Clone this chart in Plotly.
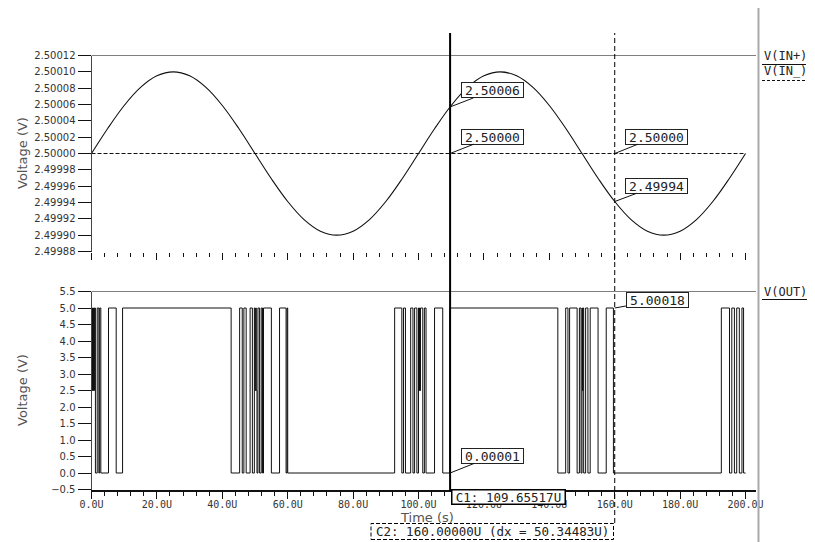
import plotly.graph_objects as go

# ---------------- data ----------------
# time samples (in microseconds, "U") for the input waveforms
t_in = [0, 5, 10, 15, 20, 25, 30, 35, 40, 45, 50, 55, 60, 65, 70, 75, 80, 85, 90, 95,
        100, 105, 110, 115, 120, 125, 130, 135, 140, 145, 150, 155, 160, 165, 170, 175,
        180, 185, 190, 195, 200]
v_in_plus = [2.5000000, 2.5000309, 2.5000588, 2.5000809, 2.5000951, 2.5001000, 2.5000951,
             2.5000809, 2.5000588, 2.5000309, 2.5000000, 2.4999691, 2.4999412, 2.4999191,
             2.4999049, 2.4999000, 2.4999049, 2.4999191, 2.4999412, 2.4999691, 2.5000000,
             2.5000309, 2.5000588, 2.5000809, 2.5000951, 2.5001000, 2.5000951, 2.5000809,
             2.5000588, 2.5000309, 2.5000000, 2.4999691, 2.4999412, 2.4999191, 2.4999049,
             2.4999000, 2.4999049, 2.4999191, 2.4999412, 2.4999691, 2.5000000]
t_in_minus = [0, 200]
v_in_minus = [2.5, 2.5]

# comparator output: switching instants (U) and the level after each switch (V)
t_out = [0.0, 0.15, 0.3, 0.45, 0.6, 0.75, 0.9, 1.2, 1.75, 2.25, 2.5, 2.85, 5.2, 7.55, 9.5,
         42.7, 45.3, 46.1, 46.6, 47.3, 48.5, 49.2, 49.8, 50.0, 50.2, 50.4, 50.6, 50.9, 51.4,
         51.9, 52.3, 52.6, 55.0, 57.5, 59.5, 59.8, 60.0,
         92.7, 94.9, 95.4, 96.0, 97.6, 98.3, 98.8, 99.5, 100.0, 100.15, 100.3, 100.45, 100.6,
         101.3, 101.8, 102.3, 104.9, 107.4, 109.6,
         142.6, 145.0, 145.7, 146.2, 148.5, 149.2, 149.7, 150.0, 150.15, 150.3, 150.5, 151.1,
         151.8, 152.5, 154.9, 157.4, 159.6,
         192.6, 195.1, 195.8, 196.6, 197.3, 198.1, 198.9, 199.4, 200.0]
v_out = [5, 2.5, 5, 2.5, 5, 2.5, 5, 0, 5, 0, 5, 0, 5, 0, 5,
         0, 5, 0, 5, 0, 5, 0, 5, 2.5, 5, 2.5, 0, 5, 0, 5, 0, 5, 0, 5, 0, 5, 0,
         5, 0, 5, 0, 5, 0, 5, 0, 5, 2.5, 5, 2.5, 5, 0, 5, 0, 5, 0, 5,
         0, 5, 0, 5, 0, 5, 0, 5, 2.5, 5, 0, 5, 0, 5, 0, 5, 0,
         5, 0, 5, 0, 5, 0, 5, 0, 0]

# cursors
c1_time = 109.65517
c2_time = 160.0
c1_vals = {"top": [2.500057, 2.5], "bot": [0.00001]}
c2_vals = {"top": [2.5, 2.4999412], "bot": [5.00018]}
c1_labels = {"top": ["2.50006", "2.50000"], "bot": ["0.00001"]}
c2_labels = {"top": ["2.50000", "2.49994"], "bot": ["5.00018"]}
c1_text = "C1: 109.65517U"
c2_text = "C2: 160.00000U (dx = 50.34483U)"
legend_top = ["V(IN+)", "V(IN_)"]
legend_bot = ["V(OUT)"]

# ---------------- layout helpers ----------------
W, H = 815, 542
OFF = 8  # page body margin of the html page
def px(x):
    return (x - OFF) / W
def py(y):
    return 1 - (y - OFF) / H

XD = [px(91.5), px(756)]
TOP_D = [py(251.5), py(55.5)]
BOT_D = [py(489.5), py(291.5)]
XR = [0, 203.2]

INK = "#111111"
TXT = "#333333"
MONO = "DejaVu Sans Mono"
SANS = "DejaVu Sans"

fig = go.Figure()
fig.add_trace(go.Scatter(x=t_in, y=v_in_plus, mode="lines", xaxis="x2", yaxis="y2",
                         line=dict(color=INK, width=1.1, shape="spline", smoothing=1.0)))
fig.add_trace(go.Scatter(x=t_in_minus, y=v_in_minus, mode="lines", xaxis="x2", yaxis="y2",
                         line=dict(color=INK, width=1, dash="4px,2px")))
fig.add_trace(go.Scatter(x=t_out, y=v_out, mode="lines", xaxis="x", yaxis="y",
                         line=dict(color=INK, width=1, shape="hv")))

xcommon = dict(range=XR, domain=XD, tickmode="linear", tick0=0, dtick=20,
               ticks="outside", ticklen=7, tickwidth=1, tickcolor=INK,
               minor=dict(tick0=0, dtick=4, ticks="outside", ticklen=4, tickwidth=1, tickcolor=INK),
               showgrid=False, zeroline=False, fixedrange=True, automargin=False)

fig.update_layout(
    width=W, height=H, margin=dict(l=0, r=0, t=0, b=0, pad=0, autoexpand=False),
    paper_bgcolor="white", plot_bgcolor="white", showlegend=False,
    xaxis=dict(**xcommon, anchor="y", tickformat=".1f", ticksuffix="U",
               showline=True, linewidth=2, linecolor=INK, ticklabelstandoff=-3,
               tickfont=dict(family=MONO, size=10, color=TXT)),
    xaxis2=dict(**xcommon, anchor="y2", matches="x", showticklabels=False, showline=False),
    yaxis=dict(domain=BOT_D, range=[-0.5, 5.5], tickmode="linear", tick0=-0.5, dtick=0.5,
               tickformat=".1f", ticks="outside", ticklen=13, tickwidth=1, tickcolor=INK,
               showline=True, linewidth=1, linecolor="#444444", showgrid=False,
               zeroline=False, anchor="x", automargin=False,
               tickfont=dict(family=SANS, size=10, color=TXT)),
    yaxis2=dict(domain=TOP_D, range=[2.49988, 2.50012], tickmode="linear", tick0=2.49988,
                dtick=0.00002, tickformat=".5f", ticks="outside", ticklen=13, tickwidth=1,
                tickcolor=INK, showline=True, linewidth=1, linecolor="#444444",
                showgrid=False, zeroline=False, anchor="x2", automargin=False,
                tickfont=dict(family=SANS, size=10, color=TXT)),
)

shapes = []
# top frame lines of each panel
shapes.append(dict(type="line", xref="paper", yref="y2", x0=XD[0], x1=XD[1],
                   y0=2.50012, y1=2.50012, line=dict(color="black", width=1)))
shapes.append(dict(type="line", xref="paper", yref="y", x0=XD[0], x1=XD[1],
                   y0=5.5, y1=5.5, line=dict(color="black", width=1)))
# grey separator on the right
shapes.append(dict(type="line", xref="paper", yref="paper", x0=px(758.5), x1=px(758.5),
                   y0=py(542), y1=py(0), line=dict(color="#aaaaaa", width=2)))
# cursors
shapes.append(dict(type="line", xref="x", yref="paper", x0=c1_time, x1=c1_time,
                   y0=py(491), y1=py(33), line=dict(color="black", width=2)))
shapes.append(dict(type="line", xref="x", yref="paper", x0=c2_time, x1=c2_time,
                   y0=py(523), y1=py(33), line=dict(color="black", width=1, dash="5px,3px")))
# C2 dashed label box
shapes.append(dict(type="rect", xref="paper", yref="paper", x0=px(371), x1=px(613.5),
                   y0=py(539.5), y1=py(523.5), line=dict(color="black", width=1, dash="4px,2px"),
                   fillcolor="rgba(255,255,255,0)"))
# legend underlines
shapes.append(dict(type="line", xref="paper", yref="paper", x0=px(762), x1=px(806),
                   y0=py(64.5), y1=py(64.5), line=dict(color=INK, width=1)))
shapes.append(dict(type="line", xref="paper", yref="paper", x0=px(762), x1=px(806),
                   y0=py(80.5), y1=py(80.5), line=dict(color=INK, width=1, dash="3px,2px")))
shapes.append(dict(type="line", xref="paper", yref="paper", x0=px(762), x1=px(815),
                   y0=py(299.5), y1=py(299.5), line=dict(color=INK, width=1)))
fig.update_layout(shapes=shapes)

ann = []
# axis titles
for yc in (153, 390):
    ann.append(dict(text="Voltage (V)", xref="paper", yref="paper", x=px(22), y=py(yc),
                    xanchor="center", yanchor="middle",
                    showarrow=False, textangle=-90, font=dict(family=SANS, size=13, color="#555555")))
ann.append(dict(text="Time (s)", xref="paper", yref="paper", x=px(427), y=py(517),
                xanchor="center", yanchor="middle",
                showarrow=False, font=dict(family=SANS, size=13, color="#555555")))

# cursor value labels
def value_label(xv, yv, text, xr, yr, ax, ay):
    return dict(text=text, x=xv, y=yv, xref=xr, yref=yr, showarrow=True, arrowhead=0,
                arrowwidth=1, arrowcolor=INK, ax=ax, ay=ay, standoff=0,
                bgcolor="white", bordercolor="#222222", borderwidth=1, borderpad=0,
                width=61, height=14, font=dict(family=MONO, size=13, color="#222222"))

top_offsets = [(42.7, -16.5), (42.7, -16.8)]
for (v, lab, off) in zip(c1_vals["top"], c1_labels["top"], top_offsets):
    ann.append(value_label(c1_time, v, lab, "x2", "y2", off[0], off[1]))
for (v, lab, off) in zip(c2_vals["top"], c2_labels["top"], [(42, -16.8), (42, -15.7)]):
    ann.append(value_label(c2_time, v, lab, "x2", "y2", off[0], off[1]))
ann.append(value_label(c1_time, c1_vals["bot"][0], c1_labels["bot"][0], "x", "y", 42.7, -17))
ann.append(value_label(c2_time, c2_vals["bot"][0], c2_labels["bot"][0], "x", "y", 42.3, -7.5))

# cursor readouts
ann.append(dict(text=c1_text, xref="paper", yref="paper", x=px(508), y=py(497),
                xanchor="center", yanchor="middle",
                showarrow=False, bgcolor="white", bordercolor="black", borderwidth=1.5,
                borderpad=0, width=112, height=13, font=dict(family=MONO, size=12.5, color="#222222")))
ann.append(dict(text=c2_text, xref="paper", yref="paper", x=px(492.5), y=py(531.5),
                xanchor="center", yanchor="middle",
                showarrow=False, font=dict(family=MONO, size=12.5, color="#222222")))

# legend labels
for lab, yc in zip(legend_top, (56.5, 70.5)):
    ann.append(dict(text=lab, xref="paper", yref="paper", x=px(762), y=py(yc), xanchor="left",
                    yanchor="middle",
                    showarrow=False, font=dict(family=MONO, size=12, color="#222222")))
ann.append(dict(text=legend_bot[0], xref="paper", yref="paper", x=px(762), y=py(291.5),
                xanchor="left", yanchor="middle", showarrow=False,
                font=dict(family=MONO, size=12, color="#222222")))
fig.update_layout(annotations=ann)

fig.write_html("out.html")
